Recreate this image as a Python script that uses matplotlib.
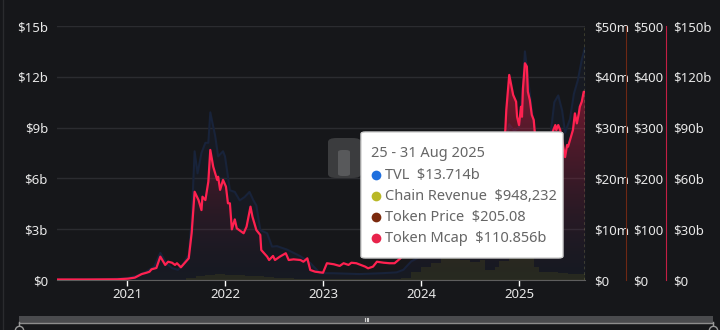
import numpy as np
import matplotlib
matplotlib.use("Agg")
import matplotlib.pyplot as plt
from matplotlib.colors import ListedColormap
from matplotlib.patches import FancyBboxPatch, Circle
from matplotlib.lines import Line2D

plt.rcParams['font.family'] = ['Noto Sans', 'DejaVu Sans']

# ---- data (x in decimal years) ----
mcap_years = [2020.29, 2020.60, 2020.90, 2021.01, 2021.08, 2021.15, 2021.20, 2021.23, 2021.25,
              2021.30, 2021.34, 2021.39, 2021.42, 2021.46, 2021.49, 2021.51, 2021.55, 2021.59,
              2021.63, 2021.66, 2021.69, 2021.73, 2021.76, 2021.77, 2021.80, 2021.83, 2021.85,
              2021.88, 2021.92, 2021.93, 2021.95, 2021.98, 2022.01, 2022.03, 2022.05, 2022.07,
              2022.10, 2022.12, 2022.19, 2022.22, 2022.26, 2022.28, 2022.32, 2022.36, 2022.37,
              2022.43, 2022.45, 2022.49, 2022.51, 2022.56, 2022.59, 2022.62, 2022.65, 2022.70,
              2022.77, 2022.80, 2022.84, 2022.87, 2022.92, 2023.00, 2023.04, 2023.11, 2023.17,
              2023.21, 2023.26, 2023.29, 2023.34, 2023.43, 2023.46, 2023.51, 2023.55, 2023.62,
              2023.68, 2023.73, 2023.79, 2023.82, 2023.88, 2023.95, 2024.00, 2024.05, 2024.10,
              2024.15, 2024.20, 2024.24, 2024.28, 2024.32, 2024.37, 2024.41, 2024.45, 2024.50,
              2024.55, 2024.59, 2024.63, 2024.68, 2024.72, 2024.76, 2024.80, 2024.84, 2024.86,
              2024.87, 2024.90, 2024.92, 2024.94, 2024.97, 2024.98, 2025.00, 2025.02, 2025.03,
              2025.04, 2025.06, 2025.08, 2025.09, 2025.11, 2025.13, 2025.15, 2025.16, 2025.19,
              2025.22, 2025.25, 2025.27, 2025.30, 2025.33, 2025.35, 2025.37, 2025.38, 2025.40,
              2025.42, 2025.44, 2025.47, 2025.49, 2025.50, 2025.52, 2025.55, 2025.57, 2025.59,
              2025.61, 2025.62, 2025.64, 2025.66, 2025.673]
mcap_vals = [0.3, 0.3, 0.4, 0.8, 1.4, 3.5, 4.3, 4.9, 6.3,
             7.1, 13.8, 8.9, 10.8, 10.2, 8.9, 9.9, 7.5, 10.2,
             12.8, 27.8, 52.1, 47.2, 41.3, 49.2, 47.2, 58.1, 76.8,
             66.9, 59.1, 61.0, 53.2, 59.1, 55.1, 45.3, 45.3, 29.9,
             35.8, 30.5, 27.6, 31.5, 43.3, 37.4, 29.5, 26.6, 17.7,
             13.8, 11.8, 14.2, 11.8, 13.8, 14.8, 15.8, 11.8, 12.2,
             11.8, 10.8, 12.8, 5.9, 4.9, 4.3, 9.9, 9.3, 8.3,
             9.9, 8.9, 10.2, 9.9, 7.9, 6.9, 7.9, 10.8, 10.2,
             9.9, 9.9, 12.8, 15.8, 24.0, 38.0, 43.0, 40.0, 42.0,
             47.0, 65.0, 84.0, 78.0, 62.0, 70.0, 78.0, 73.0, 63.0,
             80.0, 72.0, 66.0, 64.0, 68.0, 70.0, 75.0, 80.0, 88.6,
             100.4, 121.1, 115.2, 109.3, 105.3, 96.4, 91.5, 102.3, 96.4,
             113.2, 128.0, 126.0, 111.2, 106.3, 97.5, 94.5, 87.6, 78.0,
             70.0, 62.0, 58.0, 70.0, 85.0, 88.6, 91.5, 88.6, 91.5,
             88.6, 82.7, 72.6, 79.7, 78.7, 82.7, 88.6, 98.4, 92.5,
             98.4, 102.3, 105.3, 111.2, 110.856]

tvl_years = [2020.29, 2020.80, 2021.00, 2021.10, 2021.20, 2021.28, 2021.34, 2021.40, 2021.46,
             2021.52, 2021.58, 2021.63, 2021.66, 2021.69, 2021.72, 2021.76, 2021.80, 2021.83,
             2021.85, 2021.90, 2021.93, 2021.98, 2022.00, 2022.05, 2022.10, 2022.15, 2022.20,
             2022.25, 2022.29, 2022.32, 2022.36, 2022.43, 2022.48, 2022.53, 2022.63, 2022.70,
             2022.77, 2022.87, 2022.97, 2023.10, 2023.37, 2023.60, 2023.75, 2023.82, 2023.90,
             2024.00, 2024.10, 2024.20, 2024.25, 2024.35, 2024.45, 2024.55, 2024.65, 2024.75,
             2024.82, 2024.86, 2024.90, 2024.95, 2025.00, 2025.04, 2025.06, 2025.09, 2025.13,
             2025.17, 2025.22, 2025.27, 2025.32, 2025.36, 2025.40, 2025.44, 2025.47, 2025.52,
             2025.56, 2025.60, 2025.64, 2025.673]
tvl_vals = [0.02, 0.05, 0.1, 0.25, 0.5, 0.8, 1.6, 1.0, 0.7,
            0.6, 1.0, 1.5, 3.5, 7.6, 6.3, 7.5, 8.1, 8.1,
            9.9, 8.5, 7.3, 7.6, 7.3, 5.3, 5.2, 4.7, 4.9,
            5.2, 4.7, 4.4, 2.95, 2.76, 1.97, 2.0, 1.8, 1.6,
            1.4, 1.0, 0.4, 0.4, 0.35, 0.4, 0.45, 0.6, 1.1,
            1.4, 1.6, 3.0, 4.3, 4.0, 4.6, 4.8, 4.6, 5.8,
            6.5, 8.0, 9.2, 8.8, 9.0, 11.5, 13.5, 12.0, 10.0,
            8.5, 7.0, 6.8, 8.5, 10.5, 10.9, 10.0, 8.7, 9.5,
            11.0, 11.8, 13.0, 13.714]

rev_years = [2020.29, 2021.50, 2021.60, 2021.70, 2021.80, 2021.90, 2022.00, 2022.10, 2022.20,
             2022.30, 2022.40, 2022.50, 2022.70, 2023.00, 2023.50, 2023.80, 2023.90, 2024.00,
             2024.10, 2024.20, 2024.30, 2024.40, 2024.50, 2024.60, 2024.65, 2024.75, 2024.80,
             2024.90, 2025.00, 2025.10, 2025.15, 2025.20, 2025.30, 2025.40, 2025.50, 2025.60,
             2025.673]
rev_vals = [0.02, 0.05, 0.3, 0.8, 1.0, 1.1, 1.0, 0.9, 0.8,
            0.7, 0.5, 0.3, 0.2, 0.15, 0.2, 0.4, 1.6, 2.5,
            3.3, 4.3, 4.5, 4.0, 3.6, 3.9, 2.0, 2.5, 3.8,
            4.5, 5.0, 4.6, 2.5, 1.6, 1.5, 1.4, 1.2, 1.1,
            0.948]

x_ticks = [2021, 2022, 2023, 2024, 2025]
tvl_ticks = [0, 3, 6, 9, 12, 15]
tvl_labels = ['$0', '$3b', '$6b', '$9b', '$12b', '$15b']
rev_ticks = [0, 10, 20, 30, 40, 50]
rev_labels = ['$0', '$10m', '$20m', '$30m', '$40m', '$50m']
price_ticks = [0, 100, 200, 300, 400, 500]
price_labels = ['$0', '$100', '$200', '$300', '$400', '$500']
mcap_ticks = [0, 30, 60, 90, 120, 150]
mcap_labels = ['$0', '$30b', '$60b', '$90b', '$120b', '$150b']

tip_title = '25 - 31 Aug 2025'
tip_names = ['TVL', 'Chain Revenue', 'Token Price', 'Token Mcap']
tip_values = ['$13.714b', '$948,232', '$205.08', '$110.856b']
tip_colors = ['#1f6fde', '#b9b826', '#7b2a0e', '#e8234b']

BG = '#16171a'
TXT = '#e8e8e8'
W, H = 720, 330


def fx(px):
    return px / W


def fy(py):
    return 1 - py / H


fig = plt.figure(figsize=(7.2, 3.3), dpi=100, facecolor=BG)
ax = fig.add_axes([fx(57), fy(280), fx(585) - fx(57), fy(26) - fy(280)])
ax.set_facecolor(BG)
ax.set_xlim(2020.286, 2025.673)
ax.set_ylim(0, 15)

# TVL (left axis)
ax.fill_between(tvl_years, tvl_vals, 0, color='#22325a', alpha=0.13, lw=0, zorder=2)
ax.plot(tvl_years, tvl_vals, color='#18233a', lw=1.5, zorder=3)

ax.set_yticks(tvl_ticks)
ax.set_yticklabels(tvl_labels)
ax.set_xticks(x_ticks)
ax.set_xticklabels([str(t) for t in x_ticks])
ax.grid(axis='y', color='#2b2c30', lw=1)
ax.set_axisbelow(True)
ax.tick_params(axis='y', length=0, pad=6.5, labelcolor=TXT, labelsize=9.5)
ax.tick_params(axis='x', length=4, width=1, color='white', pad=2, labelcolor=TXT, labelsize=9.5)
for s in ['top', 'left', 'right']:
    ax.spines[s].set_visible(False)
ax.spines['bottom'].set_color('#5e5e5e')

# Chain revenue
ax_rev = ax.twinx()
ax_rev.set_ylim(0, 50)
ax_rev.fill_between(rev_years, rev_vals, 0, step='post', color='#6b6a1c', alpha=0.2, lw=0)
ax_rev.set_yticks(rev_ticks)
ax_rev.set_yticklabels(rev_labels)
ax_rev.tick_params(axis='y', length=0, pad=6.5, labelcolor=TXT, labelsize=9.5)

# Token price (axis only)
ax_price = ax.twinx()
ax_price.set_ylim(0, 500)
ax_price.set_yticks(price_ticks)
ax_price.set_yticklabels(price_labels)
ax_price.spines['right'].set_position(('axes', (625.7 - 57) / 528))
ax_price.spines['right'].set_color('#6e2814')
ax_price.tick_params(axis='y', length=0, pad=5.5, labelcolor=TXT, labelsize=9.5)

# Token mcap
ax_mcap = ax.twinx()
ax_mcap.set_ylim(0, 150)
ax_mcap.set_yticks(mcap_ticks)
ax_mcap.set_yticklabels(mcap_labels)
ax_mcap.spines['right'].set_position(('axes', (665.7 - 57) / 528))
ax_mcap.spines['right'].set_color('#c41f44')
ax_mcap.tick_params(axis='y', length=0, pad=5.5, labelcolor=TXT, labelsize=9.5)

poly = ax_mcap.fill_between(mcap_years, mcap_vals, 0, color='none', lw=0)
h = np.linspace(0, 1, 256)
grad_colors = np.zeros((256, 4))
grad_colors[:, 0] = 0.86
grad_colors[:, 1] = 0.10
grad_colors[:, 2] = 0.25
grad_colors[:, 3] = 0.72 * h ** 1.5
im = ax_mcap.imshow(h.reshape(-1, 1), extent=[2020.286, 2025.673, 0, 150], origin='lower',
                    aspect='auto', cmap=ListedColormap(grad_colors), zorder=1)
im.set_clip_path(poly.get_paths()[0], ax_mcap.transData)
ax_mcap.plot(mcap_years, mcap_vals, color='#ff2150', lw=1.6, zorder=4, solid_joinstyle='round')
ax_mcap.axvline(mcap_years[-1], color='#cfcf78', lw=1, ls=(0, (2, 2)), zorder=5)

for a in [ax_rev, ax_price, ax_mcap]:
    for s in ['top', 'left', 'bottom']:
        a.spines[s].set_visible(False)
ax_rev.spines['right'].set_visible(False)

# watermark
fig.add_artist(FancyBboxPatch((fx(328), fy(178)), fx(361) - fx(328), fy(138) - fy(178),
                              boxstyle='round,pad=0,rounding_size=0.012',
                              transform=fig.transFigure, fc='#3b3c3e', ec='none'))
fig.add_artist(FancyBboxPatch((fx(338), fy(176)), fx(350) - fx(338), fy(150) - fy(176),
                              boxstyle='round,pad=0,rounding_size=0.006',
                              transform=fig.transFigure, fc='#58595b', ec='none'))

# tooltip
fig.add_artist(FancyBboxPatch((fx(361), fy(258)), fx(563) - fx(361), fy(132) - fy(258),
                              boxstyle='round,pad=0,rounding_size=0.006',
                              transform=fig.transFigure, fc='white', ec='#cfcfcf', lw=1))
fig.text(fx(371), fy(153.5), tip_title, color='#666666', fontsize=10.5, va='center', ha='left')
for i, (nm, val, col) in enumerate(zip(tip_names, tip_values, tip_colors)):
    yy = 175 + i * 21
    fig.add_artist(Line2D([fx(375.5)], [fy(yy)], transform=fig.transFigure, marker='o',
                          ms=7, mfc=col, mec='none', ls='none'))
    fig.text(fx(385), fy(yy), nm + '  ' + val, color='#666666', fontsize=10.5, va='center', ha='left')

# range slider at the bottom
fig.add_artist(FancyBboxPatch((fx(19), fy(323)), fx(713) - fx(19), fy(316) - fy(323),
                              boxstyle='square,pad=0', transform=fig.transFigure,
                              fc='#4a4b4e', ec='none'))
fig.add_artist(Line2D([fx(19), fx(713)], [fy(322.5), fy(322.5)], transform=fig.transFigure,
                      color='#8d8d8d', lw=1))
for hx in [19, 713]:
    fig.add_artist(Line2D([fx(hx), fx(hx)], [fy(322), fy(327)], transform=fig.transFigure,
                          color='#9a9a9a', lw=1))
    fig.add_artist(Line2D([fx(hx)], [fy(330)], transform=fig.transFigure, marker='o', ms=6,
                          mfc=BG, mec='#9a9a9a', mew=1, ls='none'))
for gx in [364.5, 366.5, 368.5]:
    fig.add_artist(Line2D([fx(gx), fx(gx)], [fy(318), fy(321)], transform=fig.transFigure,
                          color='#d0d0d0', lw=0.8))
fig.add_artist(Line2D([fx(3), fx(3)], [0, 1], transform=fig.transFigure, color='#2a2b2e', lw=1))

fig.savefig('out.png', dpi=100, facecolor=BG)
